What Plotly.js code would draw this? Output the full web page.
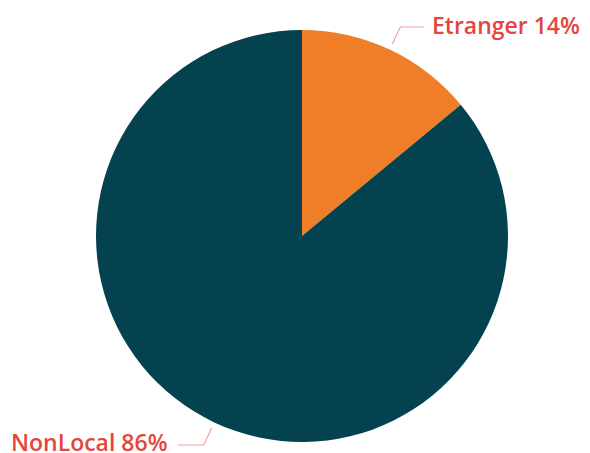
<!DOCTYPE html>
<html>
<head>
<meta charset="utf-8">
<script src="https://cdn.plot.ly/plotly-3.0.1.min.js"></script>
<style>html,body{margin:0;padding:0;background:#fff}#chart{width:590px;height:453px}</style>
</head>
<body>
<div id="chart"></div>
<script>
var labels = ["Etranger", "NonLocal"];
var values = [14, 86];
var colors = ["#f07d28", "#04424f"];

var W = 590, H = 453;
var cx = 302, cy = 236, R = 206;
var dom = {x: [(cx - R) / W, (cx + R) / W], y: [1 - (cy + R) / H, 1 - (cy - R) / H]};

function px(x) { return x / W; }
function py(y) { return 1 - y / H; }

var total = values.reduce(function (a, b) { return a + b; }, 0);
var shapes = [], annotations = [];
var cum = 0;
var lineColor = "#f2a2a0", textColor = "#e4463d";
values.forEach(function (v, i) {
  var mid = (cum + v / 2) / total * 2 * Math.PI;
  cum += v;
  var s = Math.sin(mid), c = Math.cos(mid);
  var x0 = cx + R * 1.03 * s, y0 = cy - R * 1.03 * c;
  var x1 = x0 + (s >= 0 ? 8 : -8), y1 = y0 + (c >= 0 ? -17 : 17);
  var x2 = x1 + (s >= 0 ? 24 : -26), y2 = y1;
  shapes.push({
    type: "path", xref: "paper", yref: "paper",
    path: "M" + px(x0) + "," + py(y0) + " L" + px(x1) + "," + py(y1) + " L" + px(x2) + "," + py(y2),
    line: {color: lineColor, width: 1.2}
  });
  annotations.push({
    xref: "paper", yref: "paper", x: px(x2 + (s >= 0 ? 6 : -8)), y: py(y2 - (s >= 0 ? 2 : 3)),
    xanchor: s >= 0 ? "left" : "right", yanchor: "middle",
    text: labels[i] + " " + v + "%", showarrow: false,
    font: {family: "Open Sans, sans-serif", size: 23, color: textColor, weight: 600}
  });
});

var data = [{
  type: "pie", labels: labels, values: values, sort: false, direction: "clockwise", rotation: 0,
  marker: {colors: colors, line: {width: 0}}, textinfo: "none", hoverinfo: "none",
  domain: dom, showlegend: false
}];
var layout = {
  width: W, height: H, margin: {l: 0, r: 0, t: 0, b: 0},
  paper_bgcolor: "#ffffff", showlegend: false, shapes: shapes, annotations: annotations
};
Plotly.newPlot("chart", data, layout, {displayModeBar: false, staticPlot: true});
</script>
</body>
</html>
